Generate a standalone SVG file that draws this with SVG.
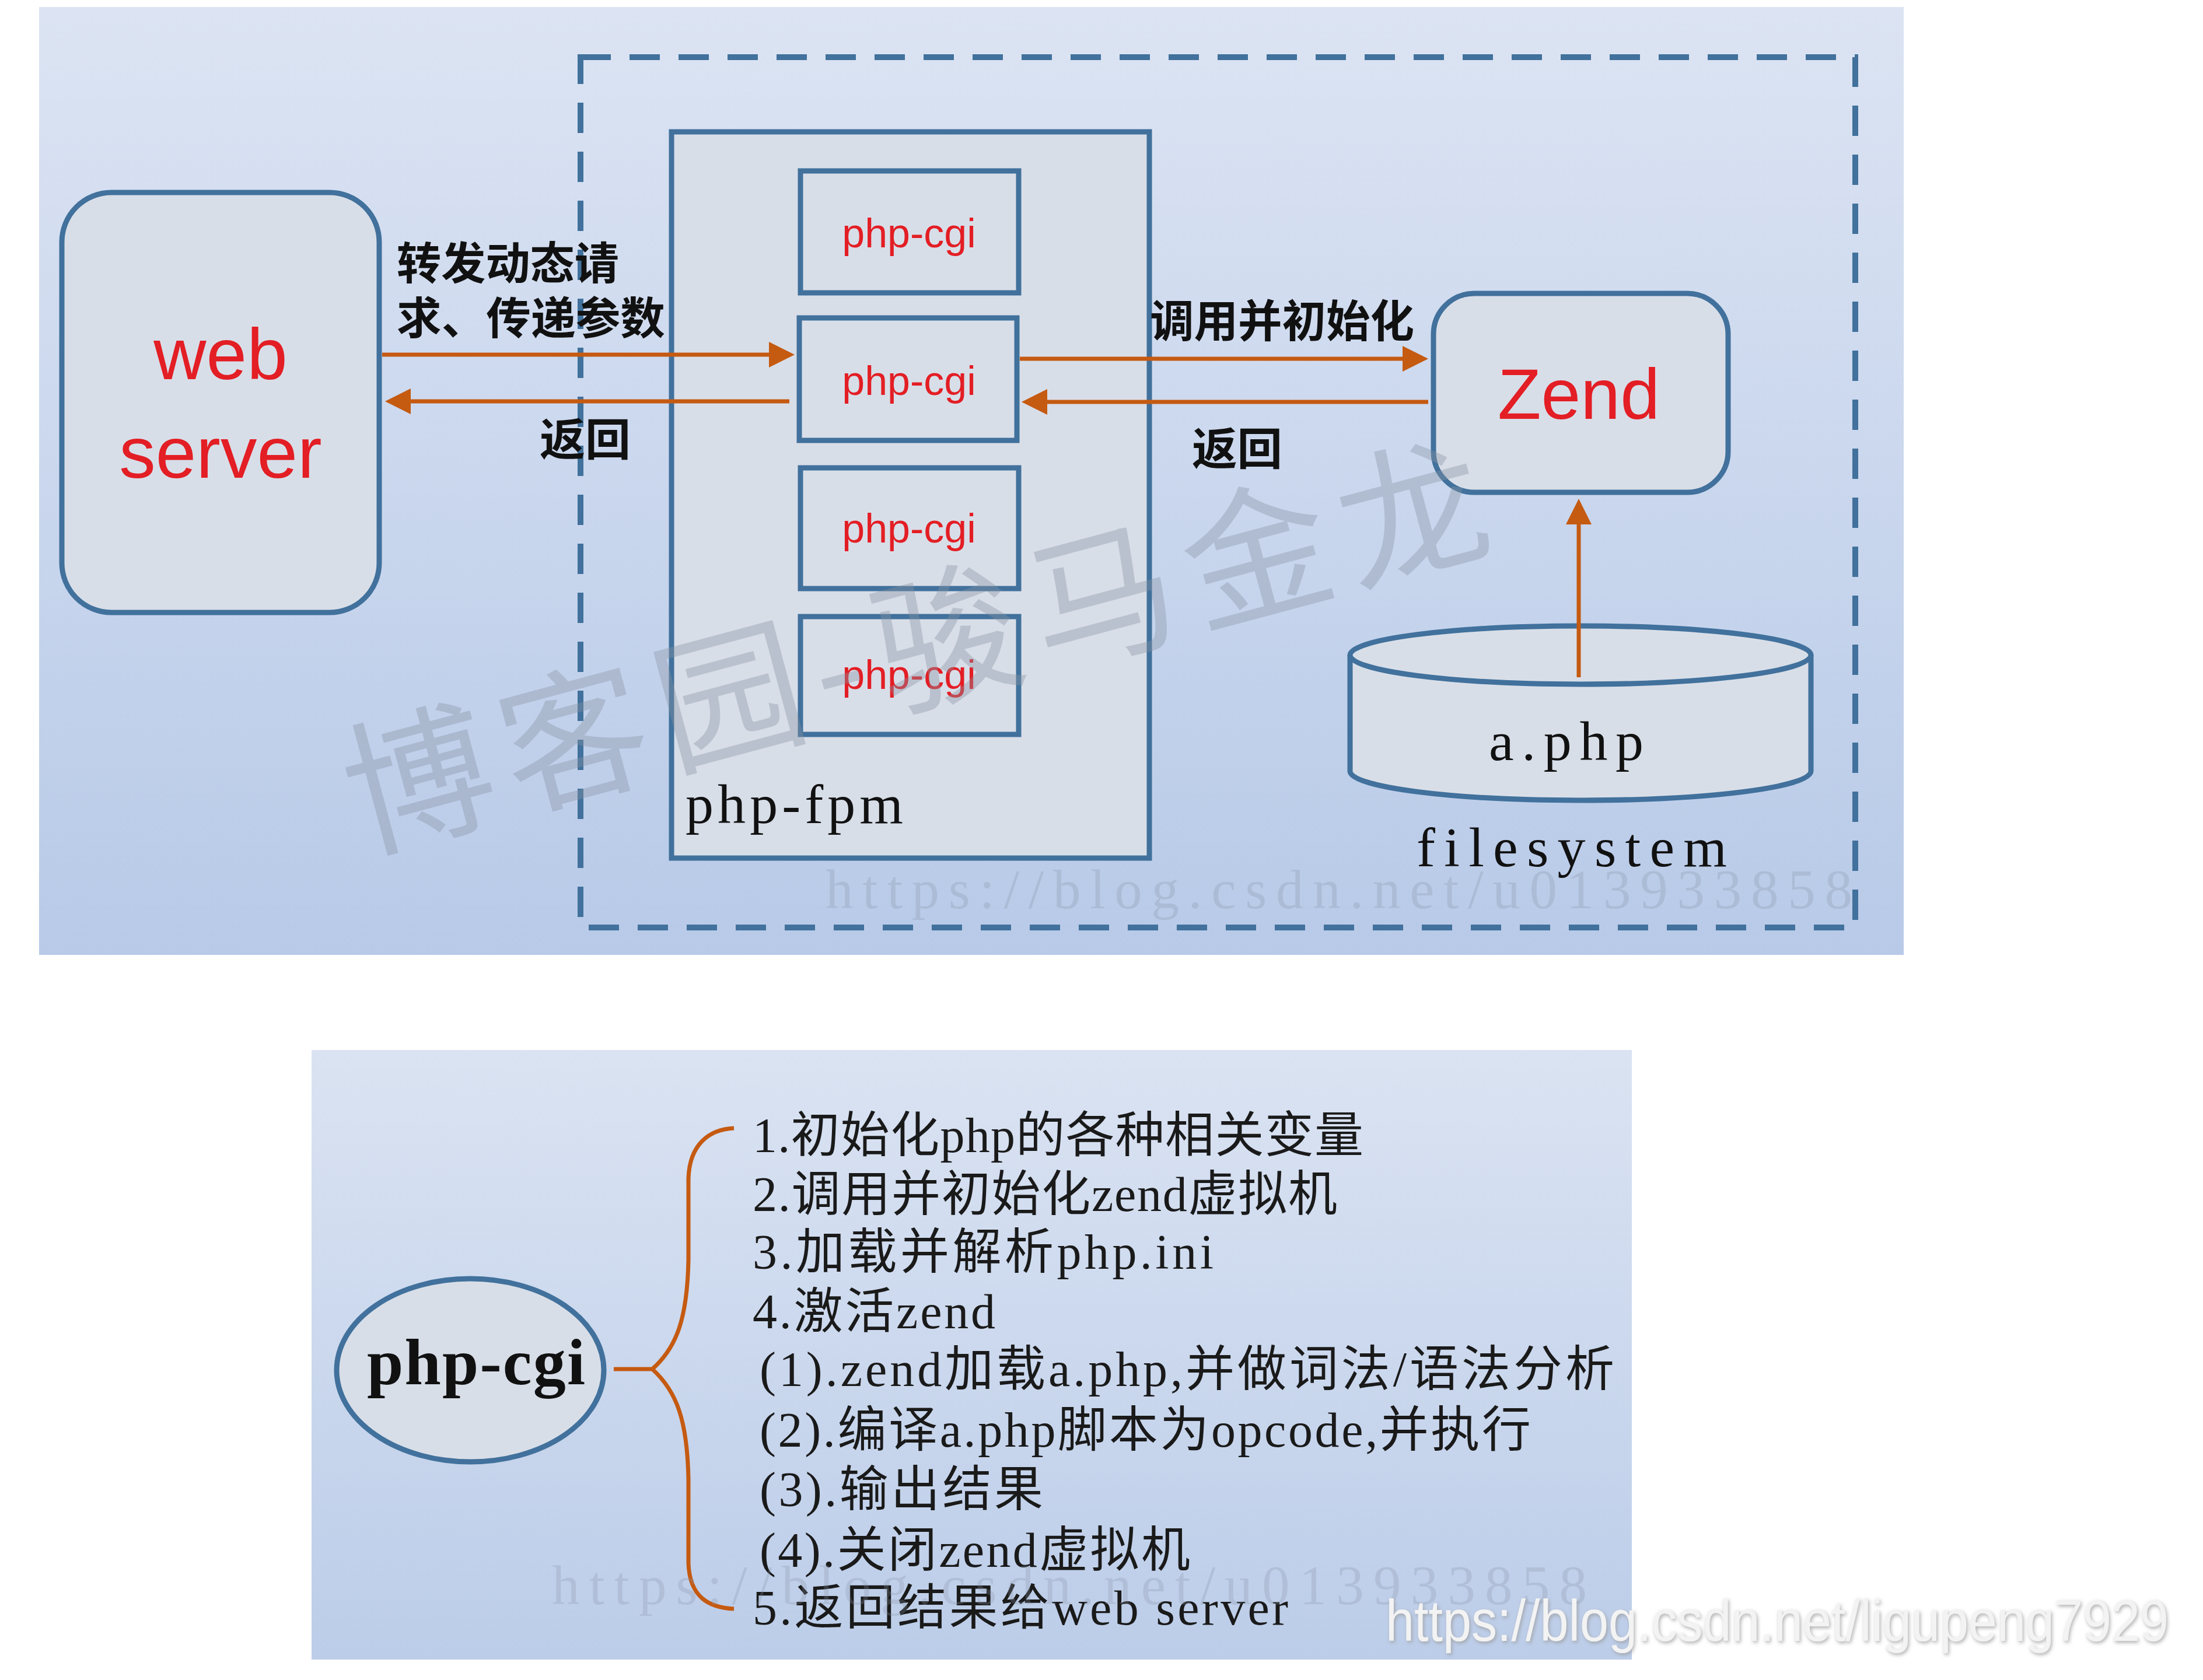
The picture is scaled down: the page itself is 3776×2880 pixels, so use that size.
<svg xmlns="http://www.w3.org/2000/svg" width="3776" height="2880" viewBox="0 0 3776 2880">
  <defs>
    <linearGradient id="bgTop" x1="0" y1="0" x2="0" y2="1">
      <stop offset="0" stop-color="#dce4f3"/>
      <stop offset="1" stop-color="#b8cae8"/>
    </linearGradient>
    <linearGradient id="bgBot" x1="0" y1="0" x2="0" y2="1">
      <stop offset="0" stop-color="#dae3f2"/>
      <stop offset="1" stop-color="#bccde9"/>
    </linearGradient>
    <marker id="ah" markerUnits="userSpaceOnUse" markerWidth="44" markerHeight="44" viewBox="0 0 44 44" refX="2" refY="22" orient="auto">
      <path d="M0,0 L44,22 L0,44 z" fill="#c55a11"/>
    </marker>
    <filter id="soft" x="-5%" y="-20%" width="110%" height="140%">
      <feDropShadow dx="2" dy="3" stdDeviation="3" flood-color="#9a9a9a" flood-opacity="0.8"/>
    </filter>
  </defs>
  <style>
    .node { fill: #d8dee8; stroke: #41719c; stroke-width: 9; }
    .red { fill: #e31e24; font-family: "Liberation Sans", "Noto Sans", sans-serif; }
    .song { fill: #111111; font-family: "Liberation Serif", "Noto Sans CJK SC", serif; }
    .lbl { fill: #111111; font-family: "Noto Sans CJK SC", sans-serif; font-weight: 700; font-size: 76px; }
    .conn { fill: none; stroke: #c55a11; stroke-width: 7; }
    .list { fill: #1a1a1a; font-family: "Liberation Serif", "Noto Sans CJK SC", serif; font-size: 84px; }
    .wm { font-family: "Liberation Serif", "Noto Sans CJK SC", serif; fill: #8a94a4; fill-opacity: 0.28; font-size: 95px; }
  </style>

  <rect width="3776" height="2880" fill="#ffffff"/>

  <!-- panels -->
  <rect id="panel-top" x="67" y="12" width="3196" height="1625" fill="url(#bgTop)"/>
  <rect id="panel-bottom" x="534" y="1800" width="2263" height="1045" fill="url(#bgBot)"/>

  <!-- dashed boundary -->
  <rect id="boundary" x="995" y="98" width="2185" height="1492" fill="none" stroke="#41719c" stroke-width="10" stroke-dasharray="52 32"/>

  <!-- nodes -->
  <g id="web-server">
    <rect class="node" x="106" y="330" width="544" height="720" rx="85" ry="85"/>
    <text class="red" x="378" y="650" text-anchor="middle" font-size="125">web</text>
    <text class="red" x="378" y="819" text-anchor="middle" font-size="125">server</text>
  </g>

  <g id="php-fpm">
    <rect class="node" x="1151" y="226" width="819" height="1245" stroke-width="10"/>
    <text class="song" x="1175" y="1411" font-size="96" textLength="373" lengthAdjust="spacing">php-fpm</text>
  </g>

  <g id="php-cgi-1">
    <rect class="node" x="1372" y="293" width="374" height="209" stroke-width="10"/>
    <text class="red" x="1558" y="424" text-anchor="middle" font-size="70">php-cgi</text>
  </g>
  <g id="php-cgi-2">
    <rect class="node" x="1370" y="545" width="373" height="210" stroke-width="10"/>
    <text class="red" x="1558" y="677" text-anchor="middle" font-size="70">php-cgi</text>
  </g>
  <g id="php-cgi-3">
    <rect class="node" x="1372" y="802" width="374" height="207" stroke-width="10"/>
    <text class="red" x="1558" y="930" text-anchor="middle" font-size="70">php-cgi</text>
  </g>
  <g id="php-cgi-4">
    <rect class="node" x="1372" y="1057" width="374" height="202" stroke-width="10"/>
    <text class="red" x="1558" y="1181" text-anchor="middle" font-size="70">php-cgi</text>
  </g>

  <g id="zend">
    <rect class="node" x="2457" y="503" width="505" height="341" rx="70" ry="70" stroke-width="8"/>
    <text class="red" x="2706" y="718" text-anchor="middle" font-size="122">Zend</text>
  </g>

  <g id="filesystem">
    <path class="node" stroke-width="8" d="M2314,1123 L2314,1322 A395,50 0 0 0 3104,1322 L3104,1123"/>
    <ellipse class="node" stroke-width="8" cx="2709" cy="1123" rx="395" ry="50"/>
    <text class="song" x="2552" y="1303" font-size="96" textLength="265" lengthAdjust="spacing">a.php</text>
    <text class="song" x="2428" y="1485" font-size="96" textLength="532" lengthAdjust="spacing">filesystem</text>
  </g>

  <!-- rotated watermark drawn over the nodes, as in the picture -->
  <g id="watermark">
    <g transform="translate(1568 1105) rotate(-15)">
      <text x="0" y="96" text-anchor="middle" font-family="Noto Sans CJK SC, sans-serif" font-size="252" fill="#8a94a4" fill-opacity="0.38" textLength="2015" lengthAdjust="spacing">博客园-骏马金龙</text>
    </g>
  </g>

  <!-- connector labels -->
  <g id="labels">
    <text class="lbl" x="680" y="479" textLength="381" lengthAdjust="spacingAndGlyphs">转发动态请</text>
    <text class="lbl" x="680" y="573" textLength="460" lengthAdjust="spacingAndGlyphs">求、传递参数</text>
    <text class="lbl" x="925" y="781" textLength="156" lengthAdjust="spacingAndGlyphs">返回</text>
    <text class="lbl" x="1971" y="578" textLength="453" lengthAdjust="spacingAndGlyphs">调用并初始化</text>
    <text class="lbl" x="2043" y="797" textLength="155" lengthAdjust="spacingAndGlyphs">返回</text>
  </g>

  <!-- connectors -->
  <g id="connectors">
    <path class="conn" d="M655,608 H1320" marker-end="url(#ah)"/>
    <path class="conn" d="M1353,688 H702" marker-end="url(#ah)"/>
    <path class="conn" d="M1748,615 H2406" marker-end="url(#ah)"/>
    <path class="conn" d="M2448,689 H1793" marker-end="url(#ah)"/>
    <path class="conn" d="M2706,1161 V897" marker-end="url(#ah)"/>
    <path class="conn" d="M1052,2347 H1118 M1118,2347 C1160,2310 1178,2260 1180,2160 L1180,2020 C1182,1962 1215,1936 1258,1934 M1118,2347 C1160,2385 1178,2435 1180,2535 L1180,2680 C1182,2738 1215,2756 1258,2758"/>
  </g>

  <!-- bottom: php-cgi ellipse -->
  <g id="php-cgi-ellipse">
    <ellipse class="node" stroke-width="8" cx="806" cy="2349" rx="229" ry="157"/>
    <text class="song" x="629" y="2373" font-size="112" font-weight="700" textLength="374" lengthAdjust="spacing">php-cgi</text>
  </g>

  <g id="steps">
    <text class="list" x="1290" y="1975" textLength="1047" lengthAdjust="spacing">1.初始化php的各种相关变量</text>
    <text class="list" x="1290" y="2076" textLength="1002" lengthAdjust="spacing">2.调用并初始化zend虚拟机</text>
    <text class="list" x="1290" y="2175" textLength="790" lengthAdjust="spacing">3.加载并解析php.ini</text>
    <text class="list" x="1290" y="2277" textLength="416" lengthAdjust="spacing">4.激活zend</text>
    <text class="list" x="1302" y="2376" textLength="1465" lengthAdjust="spacing">(1).zend加载a.php,并做词法/语法分析</text>
    <text class="list" x="1302" y="2480" textLength="1322" lengthAdjust="spacing">(2).编译a.php脚本为opcode,并执行</text>
    <text class="list" x="1302" y="2582" textLength="486" lengthAdjust="spacing">(3).输出结果</text>
    <text class="list" x="1302" y="2686" textLength="738" lengthAdjust="spacing">(4).关闭zend虚拟机</text>
    <text class="list" x="1290" y="2785" textLength="918" lengthAdjust="spacing">5.返回结果给web server</text>
  </g>

  <!-- url watermarks -->
  <g id="url-watermarks">
    <text class="wm" x="1415" y="1557" textLength="1760" lengthAdjust="spacing">https://blog.csdn.net/u013933858</text>
    <text class="wm" x="946" y="2750" textLength="1774" lengthAdjust="spacing">https://blog.csdn.net/u013933858</text>
    <text x="2375" y="2813" font-family="Liberation Sans, sans-serif" font-size="100" fill="#f3f3f3" filter="url(#soft)" textLength="1342" lengthAdjust="spacingAndGlyphs">https://blog.csdn.net/ligupeng7929</text>
  </g>
</svg>
